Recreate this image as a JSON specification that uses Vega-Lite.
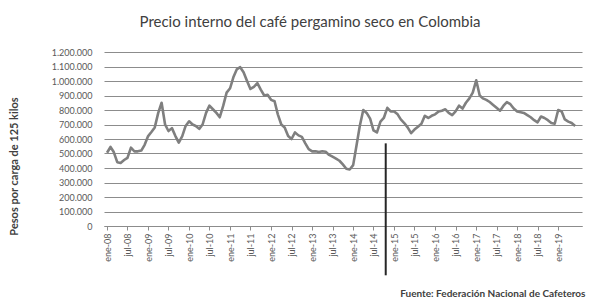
{
  "$schema": "https://vega.github.io/schema/vega-lite/v6.json",
  "width": 478,
  "height": 174,
  "autosize": "none",
  "padding": {"left": 104, "top": 52, "right": 11, "bottom": 77},
  "background": "white",
  "title": {
    "text": "Precio interno del café pergamino seco en Colombia",
    "font": "Lato",
    "fontSize": 15,
    "fontWeight": "normal",
    "color": "#404040",
    "anchor": "middle",
    "dx": -33,
    "offset": 18
  },
  "datasets": {
    "precios": [
      {"fecha": "2008-01-01", "precio": 505000},
      {"fecha": "2008-02-01", "precio": 545000},
      {"fecha": "2008-03-01", "precio": 510000},
      {"fecha": "2008-04-01", "precio": 440000},
      {"fecha": "2008-05-01", "precio": 435000},
      {"fecha": "2008-06-01", "precio": 455000},
      {"fecha": "2008-07-01", "precio": 470000},
      {"fecha": "2008-08-01", "precio": 540000},
      {"fecha": "2008-09-01", "precio": 515000},
      {"fecha": "2008-10-01", "precio": 515000},
      {"fecha": "2008-11-01", "precio": 520000},
      {"fecha": "2008-12-01", "precio": 560000},
      {"fecha": "2009-01-01", "precio": 620000},
      {"fecha": "2009-02-01", "precio": 650000},
      {"fecha": "2009-03-01", "precio": 680000},
      {"fecha": "2009-04-01", "precio": 780000},
      {"fecha": "2009-05-01", "precio": 850000},
      {"fecha": "2009-06-01", "precio": 700000},
      {"fecha": "2009-07-01", "precio": 655000},
      {"fecha": "2009-08-01", "precio": 675000},
      {"fecha": "2009-09-01", "precio": 620000},
      {"fecha": "2009-10-01", "precio": 575000},
      {"fecha": "2009-11-01", "precio": 620000},
      {"fecha": "2009-12-01", "precio": 690000},
      {"fecha": "2010-01-01", "precio": 722000},
      {"fecha": "2010-02-01", "precio": 700000},
      {"fecha": "2010-03-01", "precio": 690000},
      {"fecha": "2010-04-01", "precio": 670000},
      {"fecha": "2010-05-01", "precio": 700000},
      {"fecha": "2010-06-01", "precio": 780000},
      {"fecha": "2010-07-01", "precio": 830000},
      {"fecha": "2010-08-01", "precio": 805000},
      {"fecha": "2010-09-01", "precio": 780000},
      {"fecha": "2010-10-01", "precio": 750000},
      {"fecha": "2010-11-01", "precio": 830000},
      {"fecha": "2010-12-01", "precio": 920000},
      {"fecha": "2011-01-01", "precio": 950000},
      {"fecha": "2011-02-01", "precio": 1030000},
      {"fecha": "2011-03-01", "precio": 1080000},
      {"fecha": "2011-04-01", "precio": 1095000},
      {"fecha": "2011-05-01", "precio": 1060000},
      {"fecha": "2011-06-01", "precio": 1000000},
      {"fecha": "2011-07-01", "precio": 945000},
      {"fecha": "2011-08-01", "precio": 960000},
      {"fecha": "2011-09-01", "precio": 985000},
      {"fecha": "2011-10-01", "precio": 940000},
      {"fecha": "2011-11-01", "precio": 900000},
      {"fecha": "2011-12-01", "precio": 905000},
      {"fecha": "2012-01-01", "precio": 870000},
      {"fecha": "2012-02-01", "precio": 860000},
      {"fecha": "2012-03-01", "precio": 770000},
      {"fecha": "2012-04-01", "precio": 700000},
      {"fecha": "2012-05-01", "precio": 680000},
      {"fecha": "2012-06-01", "precio": 620000},
      {"fecha": "2012-07-01", "precio": 600000},
      {"fecha": "2012-08-01", "precio": 645000},
      {"fecha": "2012-09-01", "precio": 625000},
      {"fecha": "2012-10-01", "precio": 615000},
      {"fecha": "2012-11-01", "precio": 570000},
      {"fecha": "2012-12-01", "precio": 530000},
      {"fecha": "2013-01-01", "precio": 515000},
      {"fecha": "2013-02-01", "precio": 515000},
      {"fecha": "2013-03-01", "precio": 510000},
      {"fecha": "2013-04-01", "precio": 515000},
      {"fecha": "2013-05-01", "precio": 512000},
      {"fecha": "2013-06-01", "precio": 490000},
      {"fecha": "2013-07-01", "precio": 478000},
      {"fecha": "2013-08-01", "precio": 465000},
      {"fecha": "2013-09-01", "precio": 450000},
      {"fecha": "2013-10-01", "precio": 425000},
      {"fecha": "2013-11-01", "precio": 395000},
      {"fecha": "2013-12-01", "precio": 390000},
      {"fecha": "2014-01-01", "precio": 420000},
      {"fecha": "2014-02-01", "precio": 560000},
      {"fecha": "2014-03-01", "precio": 690000},
      {"fecha": "2014-04-01", "precio": 800000},
      {"fecha": "2014-05-01", "precio": 780000},
      {"fecha": "2014-06-01", "precio": 740000},
      {"fecha": "2014-07-01", "precio": 660000},
      {"fecha": "2014-08-01", "precio": 645000},
      {"fecha": "2014-09-01", "precio": 720000},
      {"fecha": "2014-10-01", "precio": 745000},
      {"fecha": "2014-11-01", "precio": 815000},
      {"fecha": "2014-12-01", "precio": 790000},
      {"fecha": "2015-01-01", "precio": 790000},
      {"fecha": "2015-02-01", "precio": 770000},
      {"fecha": "2015-03-01", "precio": 735000},
      {"fecha": "2015-04-01", "precio": 710000},
      {"fecha": "2015-05-01", "precio": 680000},
      {"fecha": "2015-06-01", "precio": 640000},
      {"fecha": "2015-07-01", "precio": 665000},
      {"fecha": "2015-08-01", "precio": 685000},
      {"fecha": "2015-09-01", "precio": 705000},
      {"fecha": "2015-10-01", "precio": 760000},
      {"fecha": "2015-11-01", "precio": 745000},
      {"fecha": "2015-12-01", "precio": 760000},
      {"fecha": "2016-01-01", "precio": 770000},
      {"fecha": "2016-02-01", "precio": 790000},
      {"fecha": "2016-03-01", "precio": 795000},
      {"fecha": "2016-04-01", "precio": 805000},
      {"fecha": "2016-05-01", "precio": 780000},
      {"fecha": "2016-06-01", "precio": 765000},
      {"fecha": "2016-07-01", "precio": 790000},
      {"fecha": "2016-08-01", "precio": 830000},
      {"fecha": "2016-09-01", "precio": 810000},
      {"fecha": "2016-10-01", "precio": 850000},
      {"fecha": "2016-11-01", "precio": 880000},
      {"fecha": "2016-12-01", "precio": 920000},
      {"fecha": "2017-01-01", "precio": 1005000},
      {"fecha": "2017-02-01", "precio": 900000},
      {"fecha": "2017-03-01", "precio": 880000},
      {"fecha": "2017-04-01", "precio": 870000},
      {"fecha": "2017-05-01", "precio": 855000},
      {"fecha": "2017-06-01", "precio": 835000},
      {"fecha": "2017-07-01", "precio": 815000},
      {"fecha": "2017-08-01", "precio": 795000},
      {"fecha": "2017-09-01", "precio": 830000},
      {"fecha": "2017-10-01", "precio": 855000},
      {"fecha": "2017-11-01", "precio": 840000},
      {"fecha": "2017-12-01", "precio": 810000},
      {"fecha": "2018-01-01", "precio": 790000},
      {"fecha": "2018-02-01", "precio": 785000},
      {"fecha": "2018-03-01", "precio": 780000},
      {"fecha": "2018-04-01", "precio": 765000},
      {"fecha": "2018-05-01", "precio": 750000},
      {"fecha": "2018-06-01", "precio": 730000},
      {"fecha": "2018-07-01", "precio": 715000},
      {"fecha": "2018-08-01", "precio": 755000},
      {"fecha": "2018-09-01", "precio": 745000},
      {"fecha": "2018-10-01", "precio": 730000},
      {"fecha": "2018-11-01", "precio": 710000},
      {"fecha": "2018-12-01", "precio": 705000},
      {"fecha": "2019-01-01", "precio": 800000},
      {"fecha": "2019-02-01", "precio": 790000},
      {"fecha": "2019-03-01", "precio": 735000},
      {"fecha": "2019-04-01", "precio": 720000},
      {"fecha": "2019-05-01", "precio": 710000},
      {"fecha": "2019-06-01", "precio": 690000}
    ],
    "marca": [
      {"fecha": "2014-10-18", "precio": 570000, "hasta": -340000}
    ]
  },
  "encoding": {
    "x": {
      "field": "fecha",
      "type": "temporal",
      "scale": {
        "type": "utc",
        "domain": [
          {"year": 2007, "month": 12, "date": 5, "utc": true},
          {"year": 2019, "month": 8, "date": 1, "utc": true}
        ]
      },
      "axis": {
        "values": [
          {"year": 2008, "month": 1, "utc": true}, {"year": 2008, "month": 7, "utc": true},
          {"year": 2009, "month": 1, "utc": true}, {"year": 2009, "month": 7, "utc": true},
          {"year": 2010, "month": 1, "utc": true}, {"year": 2010, "month": 7, "utc": true},
          {"year": 2011, "month": 1, "utc": true}, {"year": 2011, "month": 7, "utc": true},
          {"year": 2012, "month": 1, "utc": true}, {"year": 2012, "month": 7, "utc": true},
          {"year": 2013, "month": 1, "utc": true}, {"year": 2013, "month": 7, "utc": true},
          {"year": 2014, "month": 1, "utc": true}, {"year": 2014, "month": 7, "utc": true},
          {"year": 2015, "month": 1, "utc": true}, {"year": 2015, "month": 7, "utc": true},
          {"year": 2016, "month": 1, "utc": true}, {"year": 2016, "month": 7, "utc": true},
          {"year": 2017, "month": 1, "utc": true}, {"year": 2017, "month": 7, "utc": true},
          {"year": 2018, "month": 1, "utc": true}, {"year": 2018, "month": 7, "utc": true},
          {"year": 2019, "month": 1, "utc": true}
        ],
        "labelExpr": "(utcmonth(datum.value) == 0 ? 'ene-' : 'jul-') + utcFormat(datum.value, '%y')",
        "labelAngle": 270,
        "labelAlign": "right",
        "labelBaseline": "middle",
        "labelFont": "Lato",
        "labelFontSize": 9,
        "labelColor": "#595959",
        "labelPadding": 3,
        "labelOverlap": false,
        "grid": false,
        "domainColor": "#8c8c8c",
        "domainWidth": 1.2,
        "tickColor": "#8c8c8c",
        "tickSize": 4,
        "title": "Fuente: Federación Nacional de Cafeteros",
        "titleFont": "Lato",
        "titleFontSize": 10,
        "titleFontWeight": "bold",
        "titleColor": "#404040",
        "titleAnchor": "end",
        "titleAlign": "right",
        "titleBaseline": "middle",
        "titleX": 481,
        "titleY": 67
      }
    },
    "y": {
      "field": "precio",
      "type": "quantitative",
      "scale": {"domain": [0, 1200000], "nice": false},
      "axis": {
        "values": [0, 100000, 200000, 300000, 400000, 500000, 600000, 700000, 800000, 900000, 1000000, 1100000, 1200000],
        "labelOverlap": false,
        "labelExpr": "replace(replace(format(datum.value, ','), ',', '.'), ',', '.')",
        "labelFont": "Lato",
        "labelFontSize": 9,
        "labelColor": "#595959",
        "labelPadding": 12,
        "ticks": false,
        "domain": false,
        "grid": true,
        "gridColor": "#8c8c8c",
        "gridWidth": 1.2,
        "title": "Pesos por carga de 125 kilos",
        "titleFont": "Lato",
        "titleFontSize": 11,
        "titleFontWeight": "bold",
        "titleColor": "#404040",
        "titleAngle": 270,
        "titleAlign": "center",
        "titleBaseline": "middle",
        "titleX": -90,
        "titleY": 114
      }
    }
  },
  "layer": [
    {
      "data": {"name": "precios"},
      "mark": {"type": "line", "color": "#7f7f7f", "strokeWidth": 2.6, "strokeJoin": "round"},
      "encoding": {}
    },
    {
      "data": {"name": "marca"},
      "mark": {"type": "rule", "color": "#262626", "strokeWidth": 2, "clip": false},
      "encoding": {
        "y2": {"field": "hasta"}
      }
    }
  ],
  "config": {
    "view": {"stroke": null},
    "font": "Lato"
  }
}
